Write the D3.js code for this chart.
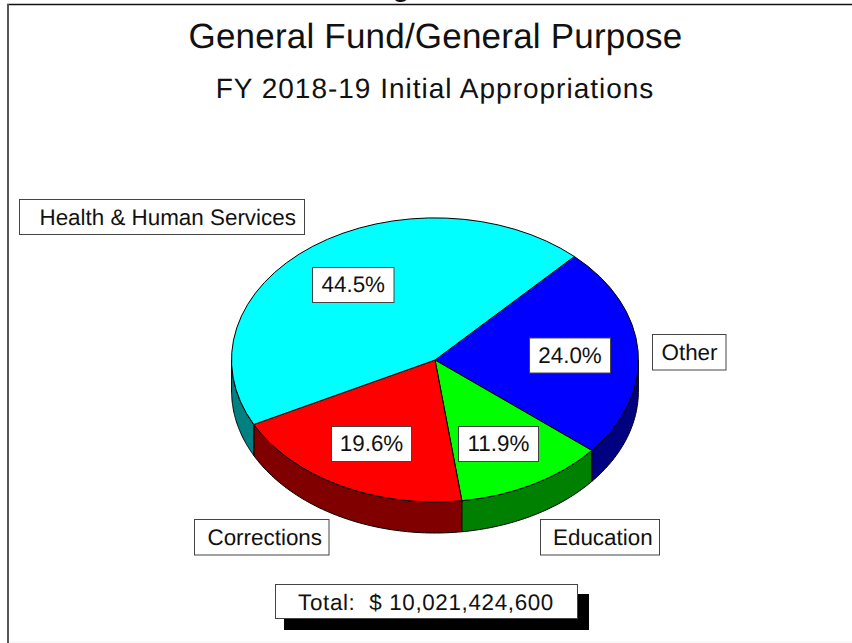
<!DOCTYPE html>
<html>
<head>
<meta charset="utf-8">
<script src="https://cdn.jsdelivr.net/npm/d3@7"></script>
<style>
  html, body { margin: 0; padding: 0; background: #fff; overflow: hidden; }
  text { font-family: "Liberation Sans", Arial, sans-serif; fill: #111; text-rendering: geometricPrecision; }
</style>
</head>
<body>
<svg id="chart" width="852" height="643"></svg>
<script>
var categories = ["Other", "Education", "Corrections", "Health & Human Services"];
var percents = [24.0, 11.9, 19.6, 44.5];
var topColors = ["#0000ff", "#00ff00", "#ff0000", "#00ffff"];
var sideColors = ["#000080", "#008000", "#800000", "#008080"];
var titleText = "General Fund/General Purpose";
var subtitleText = "FY 2018-19 Initial Appropriations";
var totalText = "Total:  $ 10,021,424,600";

var dimensions = { cx: 435, cy: 360, rx: 203.4, ry: 142, depth: 31 };

// box positions for the category and percent labels
var catBoxes = [
    { x: 652.5, y: 334.5, w: 73.5, h: 35.5, tx: 661.5 },
    { x: 540.5, y: 519.5, w: 119, h: 35.5, tx: 553 },
    { x: 194.5, y: 519.5, w: 134.5, h: 35.5, tx: 207.5 },
    { x: 19.5, y: 199.5, w: 285, h: 35, tx: 39.5 }
];
var pctBoxes = [
    { x: 529.5, y: 338, w: 81, h: 35 },
    { x: 458.5, y: 426.5, w: 80, h: 35 },
    { x: 331.5, y: 426.5, w: 80, h: 35 },
    { x: 312.5, y: 267.5, w: 81.5, h: 35 }
];

var svg = d3.select("#chart");

// clipped remains of a heading above the frame
svg.append("text")
    .attr("x", 401).attr("y", -4)
    .attr("text-anchor", "middle")
    .attr("font-size", "28px")
    .attr("font-weight", "bold")
    .text("g");

// frame, only top and left edges fall inside the window
svg.append("line")
    .attr("x1", 7).attr("x2", 852)
    .attr("y1", 4.5).attr("y2", 4.5)
    .attr("stroke", "#111")
    .attr("stroke-width", 1.5);

svg.append("line")
    .attr("x1", 8).attr("x2", 8)
    .attr("y1", 4).attr("y2", 643)
    .attr("stroke", "#555")
    .attr("stroke-width", 2);

svg.append("line")
    .attr("x1", 9).attr("x2", 852)
    .attr("y1", 642).attr("y2", 642)
    .attr("stroke", "#f2f2f2")
    .attr("stroke-width", 1);

svg.append("text")
    .attr("x", 435.5).attr("y", 48)
    .attr("text-anchor", "middle")
    .attr("font-size", "35px")
    .style("letter-spacing", "0.2px")
    .text(titleText);

svg.append("text")
    .attr("x", 435).attr("y", 98)
    .attr("text-anchor", "middle")
    .attr("font-size", "28px")
    .style("letter-spacing", "1px")
    .text(subtitleText);

var startAngle = 43.2 * Math.PI / 180;
var pie = d3.pie()
    .value(d => d)
    .sort(null)
    .startAngle(startAngle)
    .endAngle(startAngle + 2 * Math.PI);
var slices = pie(percents);

// unit circle scales to the ellipse of the pie top
var xScale = d3.scaleLinear().domain([-1, 1]).range([dimensions.cx - dimensions.rx, dimensions.cx + dimensions.rx]);
var yScale = d3.scaleLinear().domain([-1, 1]).range([dimensions.cy - dimensions.ry, dimensions.cy + dimensions.ry]);

// side walls, only the part of each slice on the front half
function wallPath(d) {
    var a0 = Math.max(d.startAngle, Math.PI / 2);
    var a1 = Math.min(d.endAngle, 3 * Math.PI / 2);
    if (a1 <= a0) return null;
    var steps = d3.range(0, 61).map(i => a0 + (a1 - a0) * i / 60);
    var top = steps.map(a => [xScale(Math.sin(a)), yScale(-Math.cos(a))]);
    var bottom = steps.slice().reverse().map(a => [xScale(Math.sin(a)), yScale(-Math.cos(a)) + dimensions.depth]);
    return d3.line()(top.concat(bottom)) + "Z";
}

svg.append("g").selectAll("path")
    .data(slices)
    .enter()
    .append("path")
    .attr("d", wallPath)
    .attr("fill", (d, i) => sideColors[i])
    .attr("stroke", "black")
    .attr("stroke-width", 1);

var arc = d3.arc().innerRadius(0).outerRadius(1);

svg.append("g")
    .attr("transform", `translate(${dimensions.cx}, ${dimensions.cy}) scale(${dimensions.rx}, ${dimensions.ry})`)
    .selectAll("path")
    .data(slices)
    .enter()
    .append("path")
    .attr("d", arc)
    .attr("fill", (d, i) => topColors[i])
    .attr("stroke", "black")
    .attr("stroke-width", 1)
    .attr("vector-effect", "non-scaling-stroke");

// category labels
var catLabels = svg.append("g").selectAll("g")
    .data(categories)
    .enter()
    .append("g");

catLabels.append("rect")
    .attr("x", (d, i) => catBoxes[i].x)
    .attr("y", (d, i) => catBoxes[i].y)
    .attr("width", (d, i) => catBoxes[i].w)
    .attr("height", (d, i) => catBoxes[i].h)
    .attr("fill", "white")
    .attr("stroke", "#444");

catLabels.append("text")
    .attr("x", (d, i) => catBoxes[i].tx)
    .attr("y", (d, i) => Math.floor(catBoxes[i].y) + 26)
    .attr("font-size", "22.4px")
    .text(d => d);

// percent labels
var pctLabels = svg.append("g").selectAll("g")
    .data(percents)
    .enter()
    .append("g");

pctLabels.append("rect")
    .attr("x", (d, i) => pctBoxes[i].x)
    .attr("y", (d, i) => pctBoxes[i].y)
    .attr("width", (d, i) => pctBoxes[i].w)
    .attr("height", (d, i) => pctBoxes[i].h)
    .attr("fill", "white")
    .attr("stroke", "#444");

pctLabels.append("text")
    .attr("x", (d, i) => pctBoxes[i].x + pctBoxes[i].w / 2)
    .attr("y", (d, i) => Math.floor(pctBoxes[i].y) + 25)
    .attr("text-anchor", "middle")
    .attr("font-size", "22.4px")
    .text(d => d.toFixed(1) + "%");

// total box with its drop shadow
svg.append("rect")
    .attr("x", 284).attr("y", 594)
    .attr("width", 305).attr("height", 36)
    .attr("fill", "black");

svg.append("rect")
    .attr("x", 275.5).attr("y", 584.5)
    .attr("width", 302).attr("height", 34)
    .attr("fill", "white")
    .attr("stroke", "#444");

svg.append("text")
    .attr("x", 426).attr("y", 610)
    .attr("text-anchor", "middle")
    .attr("font-size", "22.4px")
    .style("white-space", "pre")
    .style("letter-spacing", "0.65px")
    .text(totalText);
</script>
</body>
</html>
